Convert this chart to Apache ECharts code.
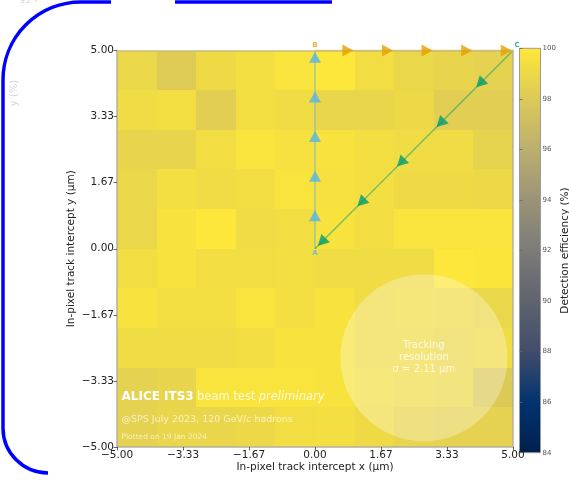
<!DOCTYPE html>
<html>
<head>
<meta charset="utf-8">
<script src="https://cdn.jsdelivr.net/npm/echarts@6/dist/echarts.min.js"></script>
<style>
  html, body { margin: 0; padding: 0; background: #fff; }
  #chart { width: 569px; height: 482px; }
</style>
</head>
<body>
<div id="chart"></div>
<script>
// In-pixel detection efficiency map, 10 x 10 bins of 1 µm (rows listed from y = 5 down to y = -5)
const xCenters = [-4.5, -3.5, -2.5, -1.5, -0.5, 0.5, 1.5, 2.5, 3.5, 4.5];
const yCenters = [4.5, 3.5, 2.5, 1.5, 0.5, -0.5, -1.5, -2.5, -3.5, -4.5];
const efficiency = [
  [98.9, 98.1, 99.1, 99.4, 99.7, 99.9, 99.3, 98.9, 98.7, 98.5],
  [99.2, 99.4, 98.3, 99.4, 99.2, 98.8, 98.8, 99.0, 98.3, 98.3],
  [98.7, 98.7, 99.3, 99.7, 99.5, 99.6, 99.4, 99.2, 99.2, 98.6],
  [98.9, 99.4, 99.2, 99.3, 99.7, 99.5, 99.4, 99.1, 99.1, 99.0],
  [98.9, 99.6, 99.9, 99.2, 99.3, 99.6, 99.3, 99.7, 99.7, 99.7],
  [99.3, 99.6, 99.3, 99.3, 99.4, 99.2, 99.2, 99.2, 99.9, 99.8],
  [99.6, 99.4, 99.4, 99.7, 99.4, 99.6, 99.2, 99.3, 99.2, 98.9],
  [99.2, 99.2, 99.2, 99.3, 99.6, 99.6, 99.2, 99.2, 98.9, 99.2],
  [98.5, 98.7, 99.7, 99.7, 99.7, 99.6, 99.4, 99.2, 99.0, 98.0],
  [98.5, 98.8, 98.8, 99.0, 99.3, 99.4, 99.1, 98.7, 98.5, 98.5]
];

// Axis tick labels (µm) and colour scale
const axisTickLabels = ['\u22125.00', '\u22123.33', '\u22121.67', '0.00', '1.67', '3.33', '5.00'];
const effMin = 84;
const effMax = 100;
const cividis = ['#00204C', '#00336F', '#414D6B', '#5F636E', '#7C7B78',
                 '#9B9377', '#BCAF6F', '#DCCA58', '#FEE838'];

// Scan path A -> B -> C -> A and the direction markers placed along it
const pointA = [0, 0];
const pointB = [0, 5];
const pointC = [5, 5];
const markersAB = [[0, 0.83], [0, 1.83], [0, 2.83], [0, 3.83], [0, 4.83]];
const markersBC = [[0.83, 5], [1.83, 5], [2.83, 5], [3.83, 5], [4.83, 5]];
const markersCA = [[4.17, 4.17], [3.17, 3.17], [2.17, 2.17], [1.17, 1.17], [0.17, 0.17]];

// Tracking resolution disc: centre x, centre y, radius (µm)
const resolutionDisc = [2.75, -2.75, 2.11];
const resolutionText = ['Tracking', 'resolution', '\u03c3 = 2.11 \u00b5m'];

const heatData = [];
yCenters.forEach((y, r) => {
  xCenters.forEach((x, c) => heatData.push([x, y, efficiency[r][c]]));
});

// colour bar fill: the same colour ramp, highest value at the top
const colorBarFill = {
  type: 'linear', x: 0, y: 0, x2: 0, y2: 1,
  colorStops: cividis.slice().reverse().map((c, i, arr) => ({ offset: i / (arr.length - 1), color: c }))
};

const FONT = 'DejaVu Sans';
const blue = '#56B4E9', orange = '#E69F00', green = '#009E73';

function tickText(v) {
  return axisTickLabels[Math.round((v + 5) / (5 / 3))];
}

const chart = echarts.init(document.getElementById('chart'), null, { renderer: 'canvas' });

const option = {
  animation: false,
  backgroundColor: '#ffffff',
  textStyle: { fontFamily: FONT },
  grid: [
    { left: 117, top: 50.5, width: 396, height: 396.5, containLabel: false, outerBoundsMode: 'none' },
    { left: 519.5, top: 48.3, width: 21, height: 404.4, containLabel: false, outerBoundsMode: 'none',
      show: true, backgroundColor: colorBarFill, borderColor: '#9a9a9a', borderWidth: 1 }
  ],
  xAxis: [
    {
      type: 'value', gridIndex: 0, min: -5, max: 5, interval: 5 / 3, z: 5,
      name: 'In-pixel track intercept x (\u00b5m)', nameLocation: 'middle', nameGap: 15,
      nameMoveOverlap: false,
      nameTextStyle: { fontFamily: FONT, fontSize: 10.5, color: '#222' },
      axisLine: { show: true, onZero: false, lineStyle: { color: '#b4b0a0', width: 1.5 } },
      axisTick: { show: true, length: 3.5, lineStyle: { color: '#444', width: 0.8 } },
      axisLabel: { formatter: tickText, fontFamily: FONT, fontSize: 10.5, color: '#222', margin: 3 },
      splitLine: { show: false }
    },
    {
      type: 'value', gridIndex: 0, position: 'top', min: -5, max: 5, z: 5,
      axisLine: { show: true, onZero: false, lineStyle: { color: '#c8bd80', width: 1.5 } },
      axisTick: { show: false }, axisLabel: { show: false }, splitLine: { show: false }
    },
    { type: 'value', gridIndex: 1, min: 0, max: 1, show: false }
  ],
  yAxis: [
    {
      type: 'value', gridIndex: 0, min: -5, max: 5, interval: 5 / 3, z: 5,
      name: 'In-pixel track intercept y (\u00b5m)', nameLocation: 'middle', nameGap: 40,
      nameMoveOverlap: false,
      nameTextStyle: { fontFamily: FONT, fontSize: 10.5, color: '#222' },
      axisLine: { show: true, onZero: false, lineStyle: { color: '#b4b0a0', width: 1.5 } },
      axisTick: { show: true, length: 3.5, lineStyle: { color: '#444', width: 0.8 } },
      axisLabel: { formatter: tickText, fontFamily: FONT, fontSize: 10.5, color: '#222', margin: 3 },
      splitLine: { show: false }
    },
    {
      type: 'value', gridIndex: 0, position: 'right', min: -5, max: 5, z: 5,
      axisLine: { show: true, onZero: false, lineStyle: { color: '#b4b0a0', width: 1.5 } },
      axisTick: { show: false }, axisLabel: { show: false }, splitLine: { show: false }
    },
    {
      type: 'value', gridIndex: 1, position: 'right', min: effMin, max: effMax, interval: 2, z: 12,
      name: 'Detection efficiency (%)', nameLocation: 'middle', nameGap: 19, nameRotate: 90,
      nameMoveOverlap: false,
      nameTextStyle: { fontFamily: FONT, fontSize: 10.5, color: '#222' },
      axisLine: { show: false },
      axisTick: { show: true, length: 3, lineStyle: { color: '#666', width: 0.8 } },
      axisLabel: { fontFamily: FONT, fontSize: 7, color: '#555', margin: 2 },
      splitLine: { show: false }
    }
  ],
  visualMap: {
    type: 'continuous', show: false, seriesIndex: 0, dimension: 2,
    min: effMin, max: effMax,
    inRange: { color: cividis }
  },
  series: [
    {
      // efficiency bins
      type: 'custom', xAxisIndex: 0, yAxisIndex: 0, data: heatData, z: 1,
      renderItem: function (params, api) {
        const x = api.value(0), y = api.value(1);
        const p1 = api.coord([x - 0.5, y + 0.5]);
        const p2 = api.coord([x + 0.5, y - 0.5]);
        const x1 = Math.round(p1[0]), y1 = Math.round(p1[1]);
        const x2 = Math.round(p2[0]), y2 = Math.round(p2[1]);
        return {
          type: 'rect',
          shape: { x: x1, y: y1, width: x2 - x1, height: y2 - y1 },
          style: { fill: api.visual('color') }
        };
      }
    },
    {
      // tracking resolution disc with its caption
      type: 'custom', xAxisIndex: 0, yAxisIndex: 0, data: [resolutionDisc], z: 3,
      renderItem: function (params, api) {
        const c = api.coord([api.value(0), api.value(1)]);
        const r = api.size([api.value(2), 0])[0];
        return {
          type: 'group',
          children: [
            { type: 'circle', shape: { cx: c[0], cy: c[1], r: r },
              style: { fill: 'rgba(255,255,255,0.3)' } },
            { type: 'text', x: c[0], y: c[1],
              style: { text: resolutionText.join('\n'), fill: 'rgba(255,255,255,0.78)',
                       font: '10px "DejaVu Sans"', align: 'center', verticalAlign: 'middle',
                       lineHeight: 12 } }
          ]
        };
      }
    },
    {
      type: 'line', data: [pointA, pointB], symbol: 'none', clip: false, z: 4,
      lineStyle: { color: blue, width: 1.5, opacity: 0.55 }
    },
    {
      type: 'line', data: [pointB, pointC], symbol: 'none', clip: false, z: 4,
      lineStyle: { color: orange, width: 1.5, opacity: 0.55 }
    },
    {
      type: 'line', data: [pointC, pointA], symbol: 'none', clip: false, z: 4,
      lineStyle: { color: green, width: 1.5, opacity: 0.5 }
    },
    {
      type: 'scatter', data: markersAB, symbol: 'triangle', symbolSize: [12, 11],
      symbolRotate: 0, clip: false, z: 6, itemStyle: { color: blue }
    },
    {
      type: 'scatter', data: markersBC, symbol: 'triangle', symbolSize: [12, 11],
      symbolRotate: -90, clip: false, z: 6, itemStyle: { color: orange }
    },
    {
      type: 'scatter', data: markersCA, symbol: 'triangle', symbolSize: [12, 11],
      symbolRotate: 135, clip: false, z: 6, itemStyle: { color: green }
    },
    {
      // path vertex labels
      type: 'scatter', symbolSize: 0, clip: false, z: 7,
      data: [
        { value: pointA, label: { show: true, formatter: 'A', position: 'bottom', distance: 1, color: blue } },
        { value: pointB, label: { show: true, formatter: 'B', position: 'top', distance: 2, color: orange } },
        { value: pointC, label: { show: true, formatter: 'C', position: 'top', distance: 2, offset: [4, 0], color: green } }
      ],
      label: { fontFamily: FONT, fontSize: 7, fontWeight: 'bold' }
    }
  ],
  graphic: [
    {
      type: 'text', left: 121.5, top: 391, z: 10,
      style: {
        text: '{b|ALICE ITS3} {n|beam test} {i|preliminary}',
        rich: {
          b: { fontFamily: FONT, fontSize: 12, fontWeight: 'bold', fill: '#ffffff' },
          n: { fontFamily: FONT, fontSize: 11.5, fill: 'rgba(255,255,255,0.8)' },
          i: { fontFamily: FONT, fontSize: 11.5, fontStyle: 'italic', fill: 'rgba(255,255,255,0.8)' }
        }
      }
    },
    {
      type: 'text', left: 121.5, top: 415, z: 10,
      style: {
        text: '{n|@SPS July 2023, 120 GeV/}{i|c}{n| hadrons}',
        rich: {
          n: { fontFamily: FONT, fontSize: 9.5, fill: 'rgba(255,255,255,0.68)' },
          i: { fontFamily: FONT, fontSize: 9.5, fontStyle: 'italic', fill: 'rgba(255,255,255,0.68)' }
        }
      }
    },
    {
      type: 'text', left: 121.5, top: 433.5, z: 10,
      style: { text: 'Plotted on 19 Jan 2024', font: '7.5px "DejaVu Sans"', fill: 'rgba(255,255,255,0.65)' }
    },
    // faint remains of a neighbouring panel in the corner
    {
      type: 'text', left: 20, top: -3, z: 0,
      style: { text: '95', font: '8px "DejaVu Sans"', fill: '#cfcfcf' }
    },
    {
      type: 'line', z: 0,
      shape: { x1: 35, y1: 1, x2: 37, y2: 1 },
      style: { stroke: '#d0d0d0', lineWidth: 1 }
    },
    {
      type: 'text', x: 14, y: 93, rotation: Math.PI / 2, z: 0,
      style: { text: 'y (%)', font: '10px "DejaVu Sans"', fill: '#d4d4d4', align: 'center', verticalAlign: 'middle' }
    },
    // blue rounded frame on the left side
    {
      type: 'arc', z: 20,
      shape: { cx: 81, cy: 80, r: 78, startAngle: Math.PI, endAngle: Math.PI * 1.5, clockwise: true },
      style: { stroke: '#0000ff', lineWidth: 3.5, fill: null }
    },
    {
      type: 'line', z: 20,
      shape: { x1: 3, y1: 80, x2: 3, y2: 428 },
      style: { stroke: '#0000ff', lineWidth: 3.5 }
    },
    {
      type: 'arc', z: 20,
      shape: { cx: 48, cy: 428, r: 45, startAngle: Math.PI / 2, endAngle: Math.PI, clockwise: true },
      style: { stroke: '#0000ff', lineWidth: 3.5, fill: null }
    },
    {
      type: 'line', z: 20,
      shape: { x1: 81, y1: 2, x2: 111, y2: 2 },
      style: { stroke: '#0000ff', lineWidth: 3.5 }
    },
    {
      type: 'line', z: 20,
      shape: { x1: 175, y1: 2, x2: 332, y2: 2 },
      style: { stroke: '#0000ff', lineWidth: 3.5 }
    }
  ]
};

chart.setOption(option);
</script>
</body>
</html>
